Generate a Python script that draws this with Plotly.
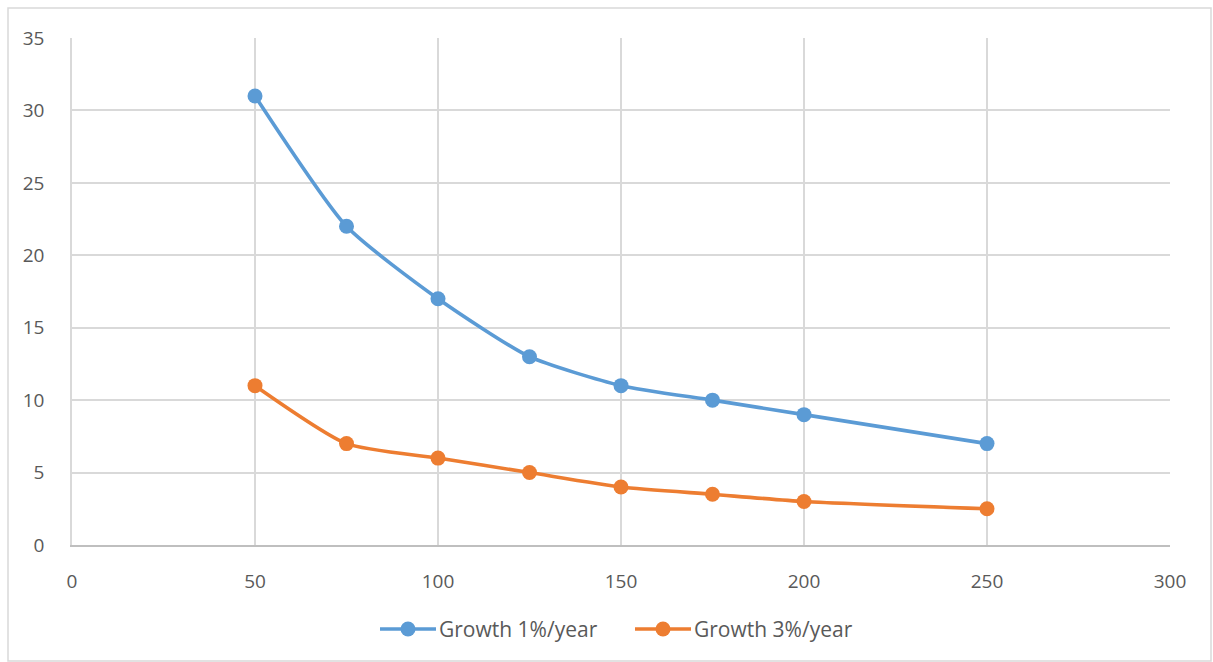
import plotly.graph_objects as go

# Project size and time to reach the target, for two growth rates
sizes = [50, 75, 100, 125, 150, 175, 200, 250]
growth_1pct = [31, 22, 17, 13, 11, 10, 9, 7]
growth_3pct = [11, 7, 6, 5, 4, 3.5, 3, 2.5]
series_names = ["Growth 1%/year", "Growth 3%/year"]
series_colors = ["#5B9BD5", "#ED7D31"]

x_ticks = [0, 50, 100, 150, 200, 250, 300]
y_ticks = [0, 5, 10, 15, 20, 25, 30, 35]

FONT = "Open Sans, Noto Sans, sans-serif"
TEXT = "#595959"
GRID = "#D9D9D9"

W, H = 1213, 662
L, R, T, B = 72, 43, 38, 117
pw, ph = W - L - R, H - T - B


def px_x(p):
    return (p - L) / pw


def px_y(p):
    return (H - B - p) / ph


fig = go.Figure()
for name, ys, color in zip(series_names, [growth_1pct, growth_3pct], series_colors):
    fig.add_trace(go.Scatter(
        x=sizes, y=ys, name=name, mode="lines+markers",
        line=dict(color=color, width=3.6, shape="spline", smoothing=0.6),
        marker=dict(color=color, size=15),
        showlegend=False,
    ))

# Legend row below the plot: a line sample with a dot, then the label
shapes = [dict(type="rect", xref="paper", yref="paper",
               x0=px_x(8), x1=px_x(1211), y0=px_y(661), y1=px_y(8),
               line=dict(color="#D9D9D9", width=1.5), fillcolor="rgba(0,0,0,0)", layer="below")]
annotations = []
legend_y = 629
for name, color, x_start in zip(series_names, series_colors, [380, 635]):
    shapes.append(dict(type="line", xref="paper", yref="paper",
                       x0=px_x(x_start), x1=px_x(x_start + 56), y0=px_y(legend_y), y1=px_y(legend_y),
                       line=dict(color=color, width=3.6)))
    cx = x_start + 28
    shapes.append(dict(type="circle", xref="paper", yref="paper",
                       x0=px_x(cx - 7.5), x1=px_x(cx + 7.5), y0=px_y(legend_y + 7.5), y1=px_y(legend_y - 7.5),
                       line=dict(color=color, width=0), fillcolor=color))
    annotations.append(dict(text=name, xref="paper", yref="paper",
                            x=px_x(x_start + 57), y=px_y(legend_y), xanchor="left", yanchor="middle",
                            showarrow=False, font=dict(family=FONT, size=21, color=TEXT)))

fig.update_layout(
    width=W, height=H,
    margin=dict(l=L, r=R, t=T, b=B),
    paper_bgcolor="white", plot_bgcolor="white",
    font=dict(family=FONT, size=19, color=TEXT),
    showlegend=False,
    xaxis=dict(range=[0, 300], tickvals=x_ticks, showgrid=True, gridcolor=GRID, gridwidth=1.5,
               zeroline=False, showline=True, linecolor="#BFBFBF", linewidth=2,
               ticks="", ticklabelstandoff=18, fixedrange=True),
    yaxis=dict(range=[0, 35], tickvals=y_ticks, showgrid=True, gridcolor=GRID, gridwidth=1.5,
               zeroline=False, showline=True, linecolor="#D9D9D9", linewidth=1.5,
               ticks="", ticklabelstandoff=22, fixedrange=True),
    shapes=shapes,
    annotations=annotations,
)

fig.write_html("out.html")
